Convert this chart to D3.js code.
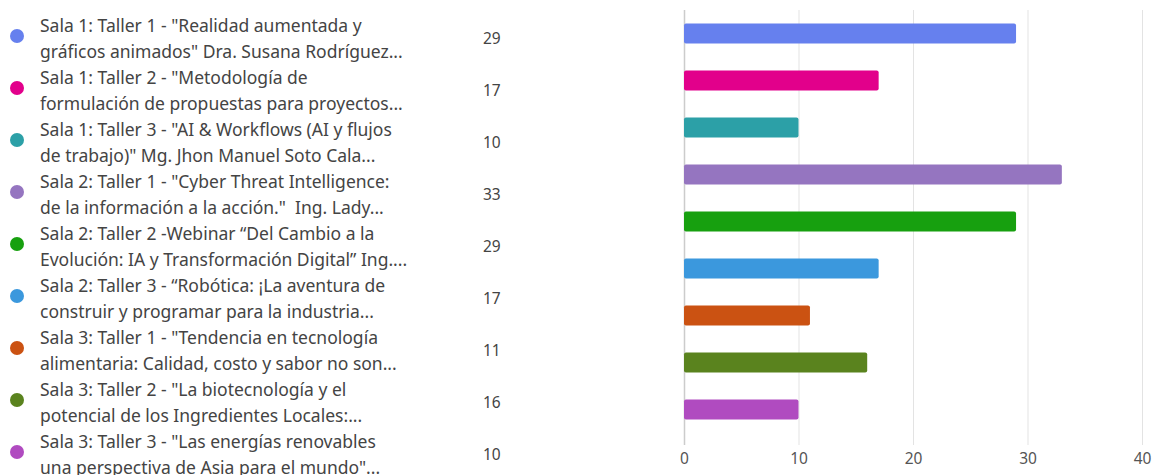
<!DOCTYPE html>
<html>
<head>
<meta charset="utf-8">
<script src="https://cdn.jsdelivr.net/npm/d3@7"></script>
<style>
  html, body { margin: 0; padding: 0; background: #fff; }
  svg { display: block; }
  text { font-family: "Noto Sans", "Open Sans", sans-serif; }
</style>
</head>
<body>
<svg id="chart" width="1154" height="475"></svg>
<script>
const categories = [
  ["Sala 1: Taller 1 - \"Realidad aumentada y", "gráficos animados\" Dra. Susana Rodríguez..."],
  ["Sala 1: Taller 2 - \"Metodología de", "formulación de propuestas para proyectos..."],
  ["Sala 1: Taller 3 - \"AI & Workflows (AI y flujos", "de trabajo)\" Mg. Jhon Manuel Soto Cala..."],
  ["Sala 2: Taller 1 - \"Cyber Threat Intelligence:", "de la información a la acción.\"  Ing. Lady..."],
  ["Sala 2: Taller 2 -Webinar “Del Cambio a la", "Evolución: IA y Transformación Digital” Ing...."],
  ["Sala 2: Taller 3 - “Robótica: ¡La aventura de", "construir y programar para la industria..."],
  ["Sala 3: Taller 1 - \"Tendencia en tecnología", "alimentaria: Calidad, costo y sabor no son..."],
  ["Sala 3: Taller 2 - \"La biotecnología y el", "potencial de los Ingredientes Locales:..."],
  ["Sala 3: Taller 3 - \"Las energías renovables", "una perspectiva de Asia para el mundo\"..."]
];
const values = [29, 17, 10, 33, 29, 17, 11, 16, 10];
const colors = ["#6680ee", "#e2008b", "#2ca0a7", "#9575c0", "#17a00f", "#3b98dd", "#cb5212", "#5a831e", "#b04bc0"];
const xTicks = [0, 10, 20, 30, 40];

const svg = d3.select("#chart");
const idx = d3.range(values.length);

// Bar chart scales
const x = d3.scaleLinear().domain([0, 40]).range([684, 1142]);
const y = d3.scaleBand().domain(idx).range([10, 433]).paddingInner(0.574).paddingOuter(0.287);

// Gridlines
svg.append("g").selectAll("line").data(xTicks).join("line")
  .attr("x1", d => x(d) + 0.5).attr("x2", d => x(d) + 0.5)
  .attr("y1", 10).attr("y2", 445)
  .attr("stroke", d => d === 0 ? "#cccccc" : "#e3e3e3")
  .attr("stroke-width", d => d === 0 ? 1.5 : 1);

// Bars
svg.append("g").selectAll("rect").data(idx).join("rect")
  .attr("x", x(0))
  .attr("y", i => y(i))
  .attr("width", i => x(values[i]) - x(0))
  .attr("height", y.bandwidth())
  .attr("rx", 2).attr("ry", 2)
  .attr("fill", i => colors[i]);

// X axis tick labels
const xAxis = d3.axisBottom(x).tickValues(xTicks).tickSize(0).tickPadding(0);
const gx = svg.append("g").attr("transform", "translate(0,452)").call(xAxis);
gx.select(".domain").remove();
gx.selectAll("text").attr("fill", "#555").attr("font-size", 15.5).attr("dy", "0.75em")
  .style("font-family", "'Noto Sans', 'Open Sans', sans-serif");

// Legend
const ly = d3.scaleLinear().domain([0, values.length - 1]).range([38, 454]);
const leg = svg.append("g");
const items = leg.selectAll("g").data(idx).join("g")
  .attr("transform", i => `translate(0,${ly(i)})`);
items.append("circle").attr("cx", 17).attr("cy", -2).attr("r", 7).attr("fill", i => colors[i]);
items.append("text")
  .attr("x", 40)
  .attr("font-size", 17.5)
  .attr("fill", "#444")
  .attr("xml:space", "preserve")
  .selectAll("tspan").data(i => categories[i]).join("tspan")
  .attr("x", 40)
  .attr("y", (d, j) => j === 0 ? -6 : 20)
  .text(d => d);
items.append("text")
  .attr("x", 483)
  .attr("y", 6)
  .attr("font-size", 15.5)
  .attr("fill", "#444")
  .text(i => values[i]);
</script>
</body>
</html>
